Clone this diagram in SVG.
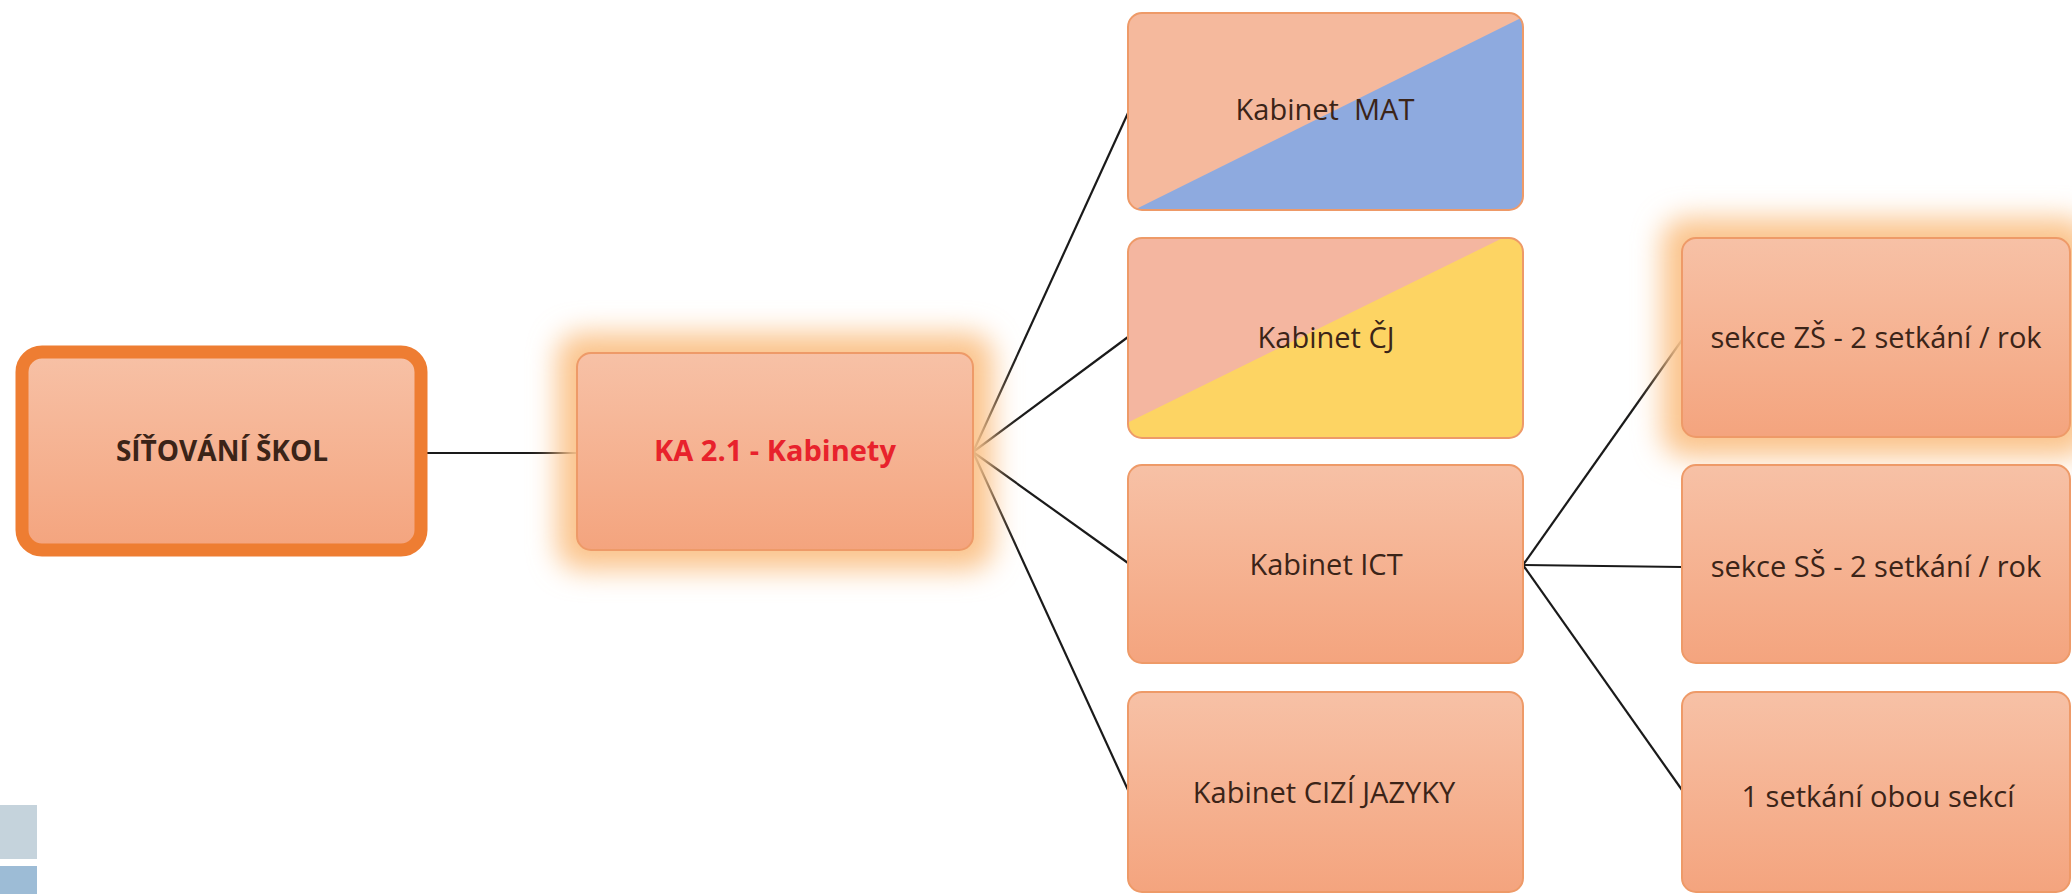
<svg xmlns="http://www.w3.org/2000/svg" width="2072" height="894" viewBox="0 0 2072 894">
<style>
.box{fill:url(#nodeFill);stroke:#ee9a68;stroke-width:2}
.edge{stroke:#1a1a1a;stroke-width:2.2;fill:none}
.lbl{font-family:"Open Sans","Liberation Sans",sans-serif;font-size:29px;fill:#3b2418;text-anchor:middle;white-space:pre}
.bold{font-weight:bold;font-size:28px}
.glow{fill:#fbc48c;filter:url(#blur)}
</style>
<defs>
<linearGradient id="nodeFill" x1="0" y1="0" x2="0" y2="1">
<stop offset="0" stop-color="#f7c1a6"/>
<stop offset="1" stop-color="#f4a47e"/>
</linearGradient>
<filter id="blur" x="-30%" y="-40%" width="160%" height="180%">
<feGaussianBlur stdDeviation="14"/>
</filter>
<clipPath id="clipMat"><rect x="1128" y="13" width="395" height="197" rx="14"/></clipPath>
<clipPath id="clipCj"><rect x="1128" y="238" width="395" height="200" rx="14"/></clipPath>
</defs>
<rect width="2072" height="894" fill="#ffffff"/>

<g id="connectors">
<line class="edge" x1="421" y1="453" x2="577" y2="453"/>
<line class="edge" x1="973" y1="452" x2="1128" y2="113"/>
<line class="edge" x1="973" y1="452" x2="1128" y2="337"/>
<line class="edge" x1="973" y1="452" x2="1128" y2="563"/>
<line class="edge" x1="973" y1="452" x2="1128" y2="790"/>
<line class="edge" x1="1523" y1="565" x2="1682" y2="340"/>
<line class="edge" x1="1523" y1="565" x2="1682" y2="567"/>
<line class="edge" x1="1523" y1="565" x2="1682" y2="790"/>
</g>

<g id="node-sitovani">
<rect x="22" y="352" width="399" height="198" rx="20" fill="url(#nodeFill)" stroke="#ee7d32" stroke-width="13"/>
<text class="lbl bold" x="222" y="461">SÍŤOVÁNÍ ŠKOL</text>
</g>

<g id="node-ka21">
<rect class="glow" x="557" y="333" width="436" height="237" rx="24"/>
<rect class="box" x="577" y="353" width="396" height="197" rx="14"/>
<text class="lbl bold" x="775" y="461" style="fill:#e8222c;font-size:29px">KA 2.1 - Kabinety</text>
</g>

<g id="node-mat">
<rect x="1128" y="13" width="395" height="197" rx="14" fill="#f5b99d"/>
<polygon points="1128,213 1128,214 1525,214 1525,16" fill="#8eaadf" clip-path="url(#clipMat)"/>
<rect x="1128" y="13" width="395" height="197" rx="14" fill="none" stroke="#ee9a68" stroke-width="2"/>
<text class="lbl" x="1325" y="120">Kabinet  MAT</text>
</g>

<g id="node-cj">
<rect x="1128" y="238" width="395" height="200" rx="14" fill="#f4b6a0"/>
<polygon points="1128,422.5 1523,228 1523,440 1128,440" fill="#fdd463" clip-path="url(#clipCj)"/>
<rect x="1128" y="238" width="395" height="200" rx="14" fill="none" stroke="#ee9a68" stroke-width="2"/>
<text class="lbl" x="1326" y="348">Kabinet ČJ</text>
</g>

<g id="node-ict">
<rect class="box" x="1128" y="465" width="395" height="198" rx="14"/>
<text class="lbl" x="1326" y="575">Kabinet ICT</text>
</g>

<g id="node-cizi">
<rect class="box" x="1128" y="692" width="395" height="200" rx="14"/>
<text class="lbl" x="1324" y="803">Kabinet CIZÍ JAZYKY</text>
</g>

<g id="node-zs">
<rect class="glow" x="1662" y="218" width="428" height="239" rx="24"/>
<rect class="box" x="1682" y="238" width="388" height="199" rx="14"/>
<text class="lbl" x="1876" y="348">sekce ZŠ - 2 setkání / rok</text>
</g>

<g id="node-ss">
<rect class="box" x="1682" y="465" width="388" height="198" rx="14"/>
<text class="lbl" x="1876" y="577">sekce SŠ - 2 setkání / rok</text>
</g>

<g id="node-obe">
<rect class="box" x="1682" y="692" width="388" height="200" rx="14"/>
<text class="lbl" x="1878" y="807">1 setkání obou sekcí</text>
</g>

<g id="decor">
<rect x="0" y="805" width="37" height="54" fill="#c5d3dc"/>
<rect x="0" y="866" width="37" height="28" fill="#9dbcd6"/>
</g>
</svg>
